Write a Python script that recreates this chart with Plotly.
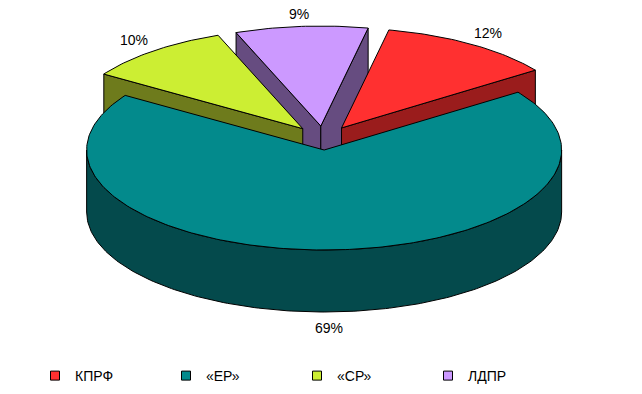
import math
import plotly.graph_objects as go

# ---- data ----
parties = ["КПРФ", "«ЕР»", "«СР»", "ЛДПР"]
shares = [12, 69, 10, 9]
top_colors = ["#FF3030", "#038A8C", "#CCEE33", "#CC99FF"]
side_colors = ["#9A1C1C", "#044A4C", "#6E7B1C", "#664C80"]

# ---- geometry (style) ----
W, H = 642, 394
CX, CY = 323.5, 138.0       # pie centre (pixels)
RX, RY = 237.5, 100.0       # ellipse radii of the top face
DEPTH = 62.0                 # thickness of the pie
EXPLODE_X = 33.0             # explosion distance, horizontal pixels
EXPLODE_Y = 12.0             # explosion distance, vertical pixels
START = 11.5                 # first slice angle (deg, clockwise from 12 o'clock)

def pt(cx, cy, ang, dy=0.0):
    a = math.radians(ang)
    return cx + RX * math.sin(a), cy - RY * math.cos(a) + dy

fig = go.Figure()

def poly(xs, ys, color):
    fig.add_trace(go.Scatter(x=xs, y=ys, mode="lines", fill="toself",
                             fillcolor=color, line=dict(color="black", width=1),
                             hoverinfo="skip", showlegend=False))

total = sum(shares)
slices = []
acc = START
for i, v in enumerate(shares):
    a0 = acc
    a1 = acc + 360.0 * v / total
    acc = a1
    mid = math.radians((a0 + a1) / 2)
    cx = CX + EXPLODE_X * math.sin(mid)
    cy = CY - EXPLODE_Y * math.cos(mid)
    slices.append((i, a0, a1, (a0 + a1) / 2, cx, cy))

# painter's order: back slices first (largest cos of mid angle)
order = sorted(slices, key=lambda s: -math.cos(math.radians(s[3])))

for (i, a0, a1, m, cx, cy) in order:
    # radial faces
    for ang, sign in ((a0, -1), (a1, 1)):
        normal = math.radians(ang + sign * 90)
        if math.cos(normal) < 0:
            x1, y1 = pt(cx, cy, ang)
            poly([cx, x1, x1, cx, cx], [cy, y1, y1 + DEPTH, cy + DEPTH, cy], side_colors[i])
    # outer rim (front half only)
    lo, hi = max(a0, 90.0), min(a1, 270.0)
    if hi > lo:
        n = max(2, int((hi - lo) / 1.0))
        angs = [lo + (hi - lo) * k / n for k in range(n + 1)]
        top = [pt(cx, cy, a) for a in angs]
        bot = [pt(cx, cy, a, DEPTH) for a in reversed(angs)]
        xs = [p[0] for p in top + bot] + [top[0][0]]
        ys = [p[1] for p in top + bot] + [top[0][1]]
        poly(xs, ys, side_colors[i])
    # top face
    n = max(2, int((a1 - a0) / 1.0))
    angs = [a0 + (a1 - a0) * k / n for k in range(n + 1)]
    rim = [pt(cx, cy, a) for a in angs]
    xs = [cx] + [p[0] for p in rim] + [cx]
    ys = [cy] + [p[1] for p in rim] + [cy]
    poly(xs, ys, top_colors[i])

# percentage labels
for (i, a0, a1, m, cx, cy) in slices:
    a = math.radians(m)
    lx = cx + RX * 1.13 * math.sin(a)
    if math.cos(a) < 0:
        ly = cy - RY * 1.12 * math.cos(a) + DEPTH + 4
    else:
        ly = cy - RY * 1.06 * math.cos(a) - 6
    fig.add_annotation(x=lx, y=ly, text=f"{shares[i]}%", showarrow=False,
                       xref="x", yref="y",
                       font=dict(family="Liberation Sans, Arial", size=14, color="black"))

# legend entries
for i, name in enumerate(parties):
    fig.add_trace(go.Scatter(x=[None], y=[None], mode="markers", name=name,
                             marker=dict(symbol="square", size=9, color=top_colors[i],
                                         line=dict(color="black", width=1))))

fig.update_layout(
    width=W, height=H,
    margin=dict(l=0, r=0, t=0, b=0, autoexpand=False),
    paper_bgcolor="white", plot_bgcolor="white",
    xaxis=dict(range=[0, W], visible=False, fixedrange=True),
    yaxis=dict(range=[H, 0], visible=False, fixedrange=True),
    showlegend=True,
    legend=dict(orientation="h", x=35 / W, xanchor="left", y=1 - 376 / H, yanchor="middle",
                entrywidth=86, entrywidthmode="pixels", itemwidth=30,
                font=dict(family="Liberation Sans, Arial", size=14, color="black"),
                bgcolor="rgba(0,0,0,0)"),
)

fig.write_html("out.html")
